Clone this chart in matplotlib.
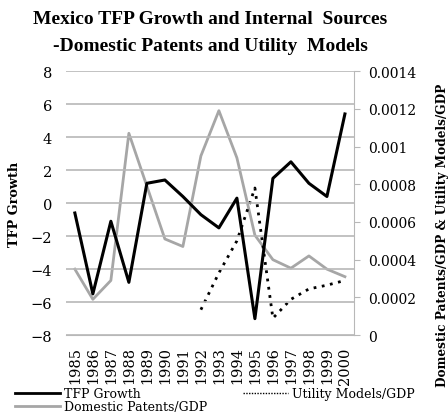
import matplotlib
matplotlib.use("Agg")
import matplotlib.pyplot as plt
from matplotlib.lines import Line2D

years = [str(y) for y in range(1985, 2001)]
tfp_growth = [-0.6, -5.5, -1.1, -4.8, 1.2, 1.4, 0.4, -0.7, -1.5, 0.3,
              -7.0, 1.5, 2.5, 1.2, 0.4, 5.4]
domestic_patents = [0.00035, 0.00019, 0.00029, 0.00107, 0.00079, 0.00051,
                    0.00047, 0.00095, 0.00119, 0.00094, 0.00053, 0.00040,
                    0.000355, 0.00042, 0.00035, 0.00031]
utility_years = years[7:]
utility_models = [0.000135, 0.00033, 0.00050, 0.00078, 0.00009, 0.00019,
                  0.000245, 0.000265, 0.00029]

serif = ["DejaVu Serif"]
plt.rcParams["font.family"] = serif

fig = plt.figure(figsize=(4.48, 4.14), dpi=100)
ax = fig.add_axes([0.147, 0.188, 0.643, 0.638])
ax2 = ax.twinx()

x = list(range(len(years)))
ax.set_xlim(-0.5, len(years) - 0.5)
ax.set_ylim(-8, 8)
ax.set_yticks(range(-8, 9, 2))
ax.yaxis.grid(True, color="#b8b8b8", lw=1.2)
ax.set_axisbelow(True)
for s in ["left", "top", "right"]:
    ax.spines[s].set_visible(False)
ax.spines["bottom"].set_color("#b8b8b8")
ax.tick_params(axis="y", length=0, labelsize=10.5, pad=10)
ax.tick_params(axis="x", length=0, labelsize=10.5, rotation=90, pad=8)
ax.set_xticks(x)
ax.set_xticklabels(years)
ax.set_ylabel("TFP Growth", fontsize=9.3, fontweight="bold")
ax.yaxis.set_label_coords(-0.155, 0.5)

ax2.set_ylim(0, 0.0014)
ax2.set_yticks([0, 0.0002, 0.0004, 0.0006, 0.0008, 0.001, 0.0012, 0.0014])
ax2.set_yticklabels(["0", "0.0002", "0.0004", "0.0006", "0.0008", "0.001", "0.0012", "0.0014"])
for s in ["left", "top", "bottom"]:
    ax2.spines[s].set_visible(False)
ax2.spines["right"].set_color("#b8b8b8")
ax2.tick_params(axis="y", direction="out", length=4, color="#b8b8b8", labelsize=10, pad=6)
ax2.set_ylabel("Domestic Patents/GDP & Utility Models/GDP", fontsize=8.7,
               fontweight="bold")
ax2.yaxis.set_label_coords(1.285, 0.38)

ux = [years.index(y) for y in utility_years]
ax2.plot(x, domestic_patents, color="#a6a6a6", lw=2.0)
ax2.plot(ux, utility_models, color="black", lw=2.0, linestyle=(0, (1, 2)))
ax.set_zorder(ax2.get_zorder() + 1)
ax.patch.set_visible(False)
ax.plot(x, tfp_growth, color="black", lw=2.2)

fig.suptitle("Mexico TFP Growth and Internal  Sources\n-Domestic Patents and Utility  Models",
             fontsize=14, fontweight="bold", y=0.974, x=0.47, linespacing=1.75,
             family=["Liberation Serif", "DejaVu Serif"])

handles = [Line2D([], [], color="black", lw=2),
           Line2D([], [], color="#a6a6a6", lw=2),
           Line2D([], [], color="black", lw=1, linestyle=(0, (1, 1)))]
labels = ["TFP Growth", "Domestic Patents/GDP", "Utility Models/GDP"]
fig.legend(handles, labels, loc="upper left", bbox_to_anchor=(0.033, 0.062), ncol=2,
           frameon=False, fontsize=9, handlelength=3.6, handletextpad=0.3,
           columnspacing=2.9, labelspacing=0.0, borderpad=0, borderaxespad=0)

fig.savefig("out.png", dpi=100)
